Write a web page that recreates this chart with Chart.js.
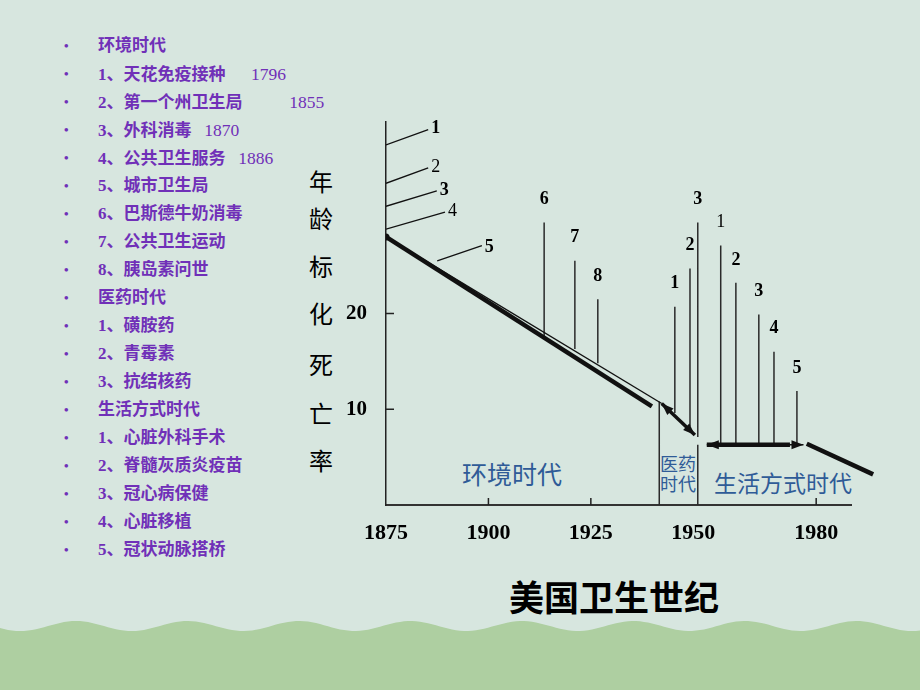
<!DOCTYPE html>
<html>
<head>
<meta charset="utf-8">
<title>美国卫生世纪</title>
<script src="https://cdn.jsdelivr.net/npm/chart.js"></script>
<style>
  body { margin: 0; width: 920px; height: 690px; position: relative; overflow: hidden;
         background: #d7e6df; font-family: "Liberation Serif", "Noto Sans CJK SC", serif; }
  #wave { position: absolute; left: 0; top: 0; }
  #chart { position: absolute; left: 0; top: 0; }
  ul.list { position: absolute; left: 0; top: 32px; margin: 0; padding: 0; list-style: none; }
  ul.list li { position: relative; height: 28px; line-height: 28px; padding-left: 98px;
               color: #7030b8; font-size: 17px; font-weight: bold; white-space: pre; }
  ul.list li:before { content: "•"; position: absolute; left: 64px; font-size: 13px; }
  ul.list li span { font-weight: normal; font-size: 17.5px; }
  .ytitle span { position: absolute; left: 308px; width: 26px; text-align: center;
                 font-family: "Noto Sans CJK SC"; font-size: 24px; line-height: 26px; color: #000; }
  .era { position: absolute; color: #2f5b97; font-family: "Noto Sans CJK SC"; text-align: center; white-space: nowrap; }
  .title { position: absolute; left: 464px; width: 300px; top: 574px; text-align: center;
           font-family: "Noto Sans CJK SC"; font-size: 35px; font-weight: bold; line-height: 44px; color: #000; }
</style>
</head>
<body>
<svg id="wave" width="920" height="690"><path id="wavePath" fill="#aecfa1"></path></svg>

<ul class="list">
  <li>环境时代</li>
  <li>1、天花免疫接种      <span>1796</span></li>
  <li>2、第一个州卫生局           <span>1855</span></li>
  <li>3、外科消毒   <span>1870</span></li>
  <li>4、公共卫生服务   <span>1886</span></li>
  <li>5、城市卫生局</li>
  <li>6、巴斯德牛奶消毒</li>
  <li>7、公共卫生运动</li>
  <li>8、胰岛素问世</li>
  <li>医药时代</li>
  <li>1、磺胺药</li>
  <li>2、青霉素</li>
  <li>3、抗结核药</li>
  <li>生活方式时代</li>
  <li>1、心脏外科手术</li>
  <li>2、脊髓灰质炎疫苗</li>
  <li>3、冠心病保健</li>
  <li>4、心脏移植</li>
  <li>5、冠状动脉搭桥</li>
</ul>

<div class="ytitle">
  <span style="top:168px">年</span>
  <span style="top:205px">龄</span>
  <span style="top:253px">标</span>
  <span style="top:300px">化</span>
  <span style="top:351px">死</span>
  <span style="top:400px">亡</span>
  <span style="top:447px">率</span>
</div>

<div class="era" style="left:450px; width:124px; top:458px; font-size:25px; line-height:30px;">环境时代</div>
<div class="era" style="left:658px; width:40px; top:453px; font-size:18px; line-height:20px;">医药<br>时代</div>
<div class="era" style="left:705px; width:156px; top:467px; font-size:23px; line-height:30px;">生活方式时代</div>

<div class="title">美国卫生世纪</div>

<canvas id="chart" width="920" height="690"></canvas>

<script>
// 坐标轴刻度
var xTickYears = [1875, 1900, 1925, 1950, 1980];
var yTickRates = [10, 20];

// 年龄标化死亡率走势
var envThickYear = [1875, 1939.9];
var envThickRate = [28.0, 10.3];
var envThinYear = [1875, 1942.3];
var envThinRate = [28.0, 10.6];
var medLineYear = [1942.3, 1950.4];
var medLineRate = [10.6, 7.3];
var lifeLineYear = [1953.3, 1976.9];
var lifeLineRate = [6.3, 6.3];
var lifeThickEnd = 1973.6;
var lateLineYear = [1977.7, 1993.9];
var lateLineRate = [6.4, 3.2];

// 环境时代 1-4：从纵轴引出的标注线
var axisNoteLabels = ['1', '2', '3', '4'];
var axisNoteRate = [37.6, 33.6, 31.2, 28.8];
var axisNoteEndYear = [1885.3, 1885.3, 1887.4, 1889.4];
var axisNoteEndRate = [39.2, 35.2, 32.8, 30.6];
// 环境时代 5
var note5Year = [1887.5, 1898.4];
var note5Rate = [25.5, 27.1];

// 环境时代 6-8
var envEventLabels = ['6', '7', '8'];
var envEventYear = [1913.6, 1921.1, 1926.7];
var envEventTop = [29.5, 25.5, 21.5];
var envEventBase = [17.6, 16.3, 14.8];

// 医药时代 1-3
var medEventLabels = ['1', '2', '3'];
var medEventYear = [1945.5, 1949.2, 1951.1];
var medEventTop = [20.7, 24.7, 29.5];
var medEventBase = [9.6, 8.2, 7.1];

// 生活方式时代 1-5
var lifeEventLabels = ['1', '2', '3', '4', '5'];
var lifeEventYear = [1956.7, 1960.4, 1966.0, 1969.7, 1975.3];
var lifeEventTop = [27.1, 23.2, 19.9, 16.0, 11.9];

// 时代分界线
var eraBoundYear = [1941.7, 1951.1];
var eraBoundTop = [10.8, 6.3];

// 细体数字标注
var plainLabels = { axis: ['2', '4'], life: ['1'] };

// 背景波浪
(function () {
  var d = 'M0,690 L0,628';
  for (var x = 0; x <= 920; x += 4) {
    d += ' L' + x + ',' + (626 - 5 * Math.cos(2 * Math.PI * (x - 76) / 111.5)).toFixed(1);
  }
  d += ' L920,690 Z';
  document.getElementById('wavePath').setAttribute('d', d);
})();

function pts(xs, ys) {
  return xs.map(function (x, i) { return { x: x, y: ys[i] }; });
}
function sticks(xs, bases, tops) {
  var out = [];
  xs.forEach(function (x, i) {
    out.push({ x: x, y: bases[i] }, { x: x, y: tops[i] }, { x: x, y: null });
  });
  return out;
}

var leaderData = [];
axisNoteRate.forEach(function (r, i) {
  leaderData.push({ x: xTickYears[0], y: r }, { x: axisNoteEndYear[i], y: axisNoteEndRate[i] }, { x: axisNoteEndYear[i], y: null });
});
leaderData = leaderData.concat(pts(note5Year, note5Rate));

var lifeBase = lifeEventYear.map(function () { return lifeLineRate[0]; });

var ink = '#111';
var datasets = [
  { data: pts(envThinYear, envThinRate), borderWidth: 1.4 },
  { data: pts(envThickYear, envThickRate), borderWidth: 4.5, pointRadius: [3.5, 0], pointBackgroundColor: ink, pointBorderWidth: 0 },
  { data: pts(medLineYear, medLineRate), borderWidth: 3.5 },
  { data: pts(lifeLineYear, lifeLineRate), borderWidth: 1.5 },
  { data: pts([lifeLineYear[0], lifeThickEnd], lifeLineRate), borderWidth: 4.5 },
  { data: pts(lateLineYear, lateLineRate), borderWidth: 4.5, clip: false },
  { data: leaderData, borderWidth: 1.3 },
  { data: sticks(envEventYear, envEventBase, envEventTop), borderWidth: 1.5, borderColor: '#2a2a2a' },
  { data: sticks(medEventYear, medEventBase, medEventTop), borderWidth: 1.5, borderColor: '#2a2a2a' },
  { data: sticks(lifeEventYear, lifeBase, lifeEventTop), borderWidth: 1.5, borderColor: '#2a2a2a' },
  { data: sticks(eraBoundYear, [0, 0], eraBoundTop), borderWidth: 1.5, borderColor: '#2a2a2a' }
];
datasets.forEach(function (ds) {
  if (!ds.borderColor) ds.borderColor = ink;
  if (ds.pointRadius === undefined) ds.pointRadius = 0;
  ds.spanGaps = false;
  ds.fill = false;
});

var overlay = {
  id: 'overlay',
  afterDatasetsDraw: function (chart) {
    var ctx = chart.ctx, area = chart.chartArea, xs = chart.scales.x, ys = chart.scales.y;
    var px = function (v) { return xs.getPixelForValue(v); };
    var py = function (v) { return ys.getPixelForValue(v); };
    ctx.save();

    // 坐标轴内侧刻度
    ctx.strokeStyle = '#222';
    ctx.lineWidth = 1.5;
    ctx.beginPath();
    yTickRates.forEach(function (v) {
      ctx.moveTo(area.left, py(v)); ctx.lineTo(area.left + 8, py(v));
    });
    xTickYears.forEach(function (v) {
      if (v === xs.min) return;
      if (eraBoundYear.some(function (b) { return Math.abs(b - v) < 2; })) return;
      ctx.moveTo(px(v), area.bottom); ctx.lineTo(px(v), area.bottom - 7);
    });
    ctx.stroke();

    // 双向箭头
    ctx.fillStyle = ink;
    function head(tx, ty, fx, fy) {
      var a = Math.atan2(ty - fy, tx - fx), L = 12, W = 4.5;
      ctx.beginPath();
      ctx.moveTo(tx, ty);
      ctx.lineTo(tx - L * Math.cos(a) + W * Math.sin(a), ty - L * Math.sin(a) - W * Math.cos(a));
      ctx.lineTo(tx - L * Math.cos(a) - W * Math.sin(a), ty - L * Math.sin(a) + W * Math.cos(a));
      ctx.closePath();
      ctx.fill();
    }
    [[medLineYear, medLineRate], [lifeLineYear, lifeLineRate]].forEach(function (s) {
      var x1 = px(s[0][0]), y1 = py(s[1][0]), x2 = px(s[0][1]), y2 = py(s[1][1]);
      head(x1, y1, x2, y2);
      head(x2, y2, x1, y1);
    });

    // 数字标注
    ctx.fillStyle = '#000';
    ctx.textBaseline = 'middle';
    function setFont(group, label) {
      var plain = (plainLabels[group] || []).indexOf(label) >= 0;
      ctx.font = (plain ? '' : 'bold ') + '18px "Liberation Serif"';
    }
    ctx.textAlign = 'left';
    axisNoteLabels.forEach(function (t, i) {
      setFont('axis', t);
      ctx.fillText(t, px(axisNoteEndYear[i]) + 3, py(axisNoteEndRate[i]) - 1);
    });
    setFont('env', '5');
    ctx.fillText('5', px(note5Year[1]) + 3, py(note5Rate[1]) + 2);

    ctx.textAlign = 'center';
    function above(group, labels, years, tops) {
      labels.forEach(function (t, i) {
        setFont(group, t);
        ctx.fillText(t, px(years[i]), py(tops[i]) - 23);
      });
    }
    above('env', envEventLabels, envEventYear, envEventTop);
    above('med', medEventLabels, medEventYear, medEventTop);
    above('life', lifeEventLabels, lifeEventYear, lifeEventTop);
    ctx.restore();
  }
};

var tickFont = { family: 'Liberation Serif', size: 22, weight: 'bold' };

var chart = new Chart(document.getElementById('chart').getContext('2d'), {
  type: 'line',
  data: { datasets: datasets },
  options: {
    responsive: false,
    animation: false,
    devicePixelRatio: 1,
    events: [],
    layout: { padding: { left: 0, top: 122, right: 69, bottom: 0 } },
    plugins: { legend: { display: false }, tooltip: { enabled: false } },
    elements: { line: { tension: 0 } },
    scales: {
      x: {
        type: 'linear', min: 1875, max: 1988.5,
        afterFit: function (s) { s.height = 185; },
        afterBuildTicks: function (s) { s.ticks = xTickYears.map(function (v) { return { value: v }; }); },
        grid: { display: false, drawTicks: false },
        border: { display: true, color: '#333', width: 2 },
        ticks: { padding: 15, autoSkip: false, maxRotation: 0, color: '#000', font: tickFont,
                 callback: function (v) { return String(v); } }
      },
      y: {
        type: 'linear', min: 0, max: 40,
        afterFit: function (s) { s.width = 386; },
        afterBuildTicks: function (s) { s.ticks = yTickRates.map(function (v) { return { value: v }; }); },
        grid: { display: false, drawTicks: false },
        border: { display: true, color: '#222', width: 1.5 },
        ticks: { padding: 19, color: '#000', font: { family: 'Liberation Serif', size: 21, weight: 'bold' },
                 callback: function (v) { return String(v); } }
      }
    }
  },
  plugins: [overlay]
});
</script>
</body>
</html>
